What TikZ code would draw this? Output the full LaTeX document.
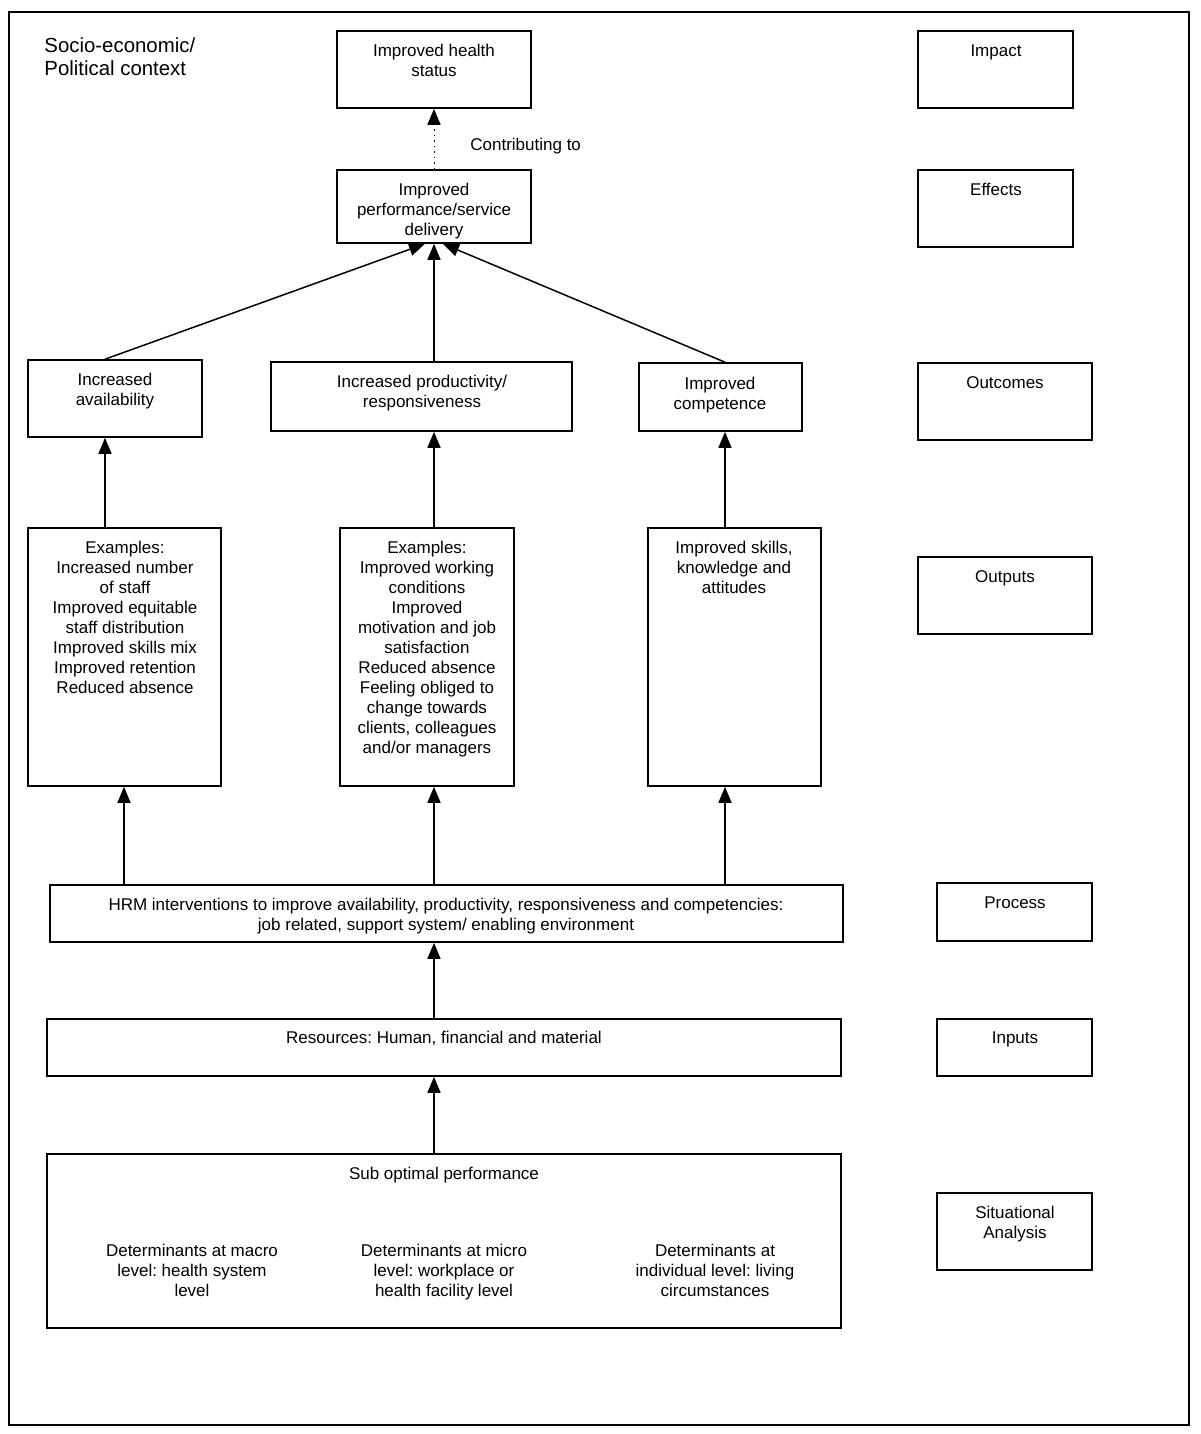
\documentclass[tikz,border=0pt]{standalone}
\usepackage{fontspec}
\setmainfont{Liberation Sans}
\usetikzlibrary{arrows.meta,fit,positioning}

\tikzset{
  box/.style={draw, line width=0.8pt, inner sep=0pt},
  txt/.style={inner sep=0pt, align=center, anchor=north, font=\fontsize{8.5}{10}\selectfont},
  arr/.style={line width=0.75pt, -{Triangle[length=8pt,width=6.5pt,line width=0.75pt]}},
}

\begin{document}
\frenchspacing
\begin{tikzpicture}[x=0.5pt,y=0.5pt,yscale=-1]
\useasboundingbox (0,0) rectangle (1200,1434);

% frame and context
\node [box, fit={(9,12) (1189,1425)}] (frame) {};
\node [inner sep=0pt, anchor=north west, align=left, font=\fontsize{10.2}{11.5}\selectfont] (context) at (44,37) {Socio-economic/\\Political context};

% columns for the vertical connectors
\coordinate (colA) at (105,0);
\coordinate (colB) at (124,0);
\coordinate (colM) at (434,0);
\coordinate (colR) at (725,0);

% main chain boxes
\node [box, fit={(337,31) (531,108)}] (health) {};
\node [box, fit={(337,170) (531,243)}] (perf) {};
\node [box, fit={(28,360) (202,437)}] (avail) {};
\node [box, fit={(271,362) (572,431)}] (prod) {};
\node [box, fit={(639,363) (802,431)}] (comp) {};
\node [box, fit={(28,528) (221,786)}] (ex1) {};
\node [box, fit={(340,528) (514,786)}] (ex2) {};
\node [box, fit={(648,528) (821,786)}] (ex3) {};
\node [box, fit={(50,885) (843,942)}] (hrm) {};
\node [box, fit={(47,1019) (841,1076)}] (res) {};
\node [box, fit={(47,1154) (841,1328)}] (sub) {};

% texts of the main chain
\node [txt] (healthtxt) at (434,44) {Improved health\\status};
\node [txt] (perftxt) at (434,183) {Improved\\performance/service\\delivery};
\node [txt] (availtxt) at (115,373) {Increased\\availability};
\node [txt] (prodtxt) at (422,375) {Increased productivity/\\responsiveness};
\node [txt] (comptxt) at (720,377) {Improved\\competence};
\node [txt] (ex1txt) at (125,541) {Examples:\\Increased number\\of staff\\Improved equitable\\staff distribution\\Improved skills mix\\Improved retention\\Reduced absence};
\node [txt] (ex2txt) at (427,541) {Examples:\\Improved working\\conditions\\Improved\\motivation and job\\satisfaction\\Reduced absence\\Feeling obliged to\\change towards\\clients, colleagues\\and/or managers};
\node [txt] (ex3txt) at (734,541) {Improved skills,\\knowledge and\\attitudes};
\node [txt] (hrmtxt) at (446,898) {HRM interventions to improve availability, productivity, responsiveness and competencies:\\job related, support system/ enabling environment};
\node [txt] (restxt) at (444,1031) {Resources: Human, financial and material};
\node [txt] (subtxt) at (444,1167) {Sub optimal performance};
\node [txt] (macro) at (192,1244) {Determinants at macro\\level: health system\\level};
\node [txt] (micro) at (444,1244) {Determinants at micro\\level: workplace or\\health facility level};
\node [txt] (indiv) at (715,1244) {Determinants at\\individual level: living\\circumstances};
\node [txt, anchor=west] (contrib) at (470,146) {Contributing to};

% level boxes on the right
\node [box, fit={(918,31) (1073,108)}] (impact) {};
\node [box, fit={(918,170) (1073,247)}] (effects) {};
\node [box, fit={(918,363) (1092,440)}] (outcomes) {};
\node [box, fit={(918,557) (1092,634)}] (outputs) {};
\node [box, fit={(937,883) (1092,941)}] (process) {};
\node [box, fit={(937,1019) (1092,1076)}] (inputs) {};
\node [box, fit={(937,1193) (1092,1270)}] (situation) {};
\node [txt] at (996,44) {Impact};
\node [txt] at (996,183) {Effects};
\node [txt] at (1005,376) {Outcomes};
\node [txt] at (1005,570) {Outputs};
\node [txt] at (1015,896) {Process};
\node [txt] at (1015,1031) {Inputs};
\node [txt] at (1015,1206) {Situational\\Analysis};

% connectors
\draw [arr, dotted, line width=0.5pt] (perf.north) -- (health.south);
\draw [arr] (avail.north -| colA) -- ([xshift=-4.5pt]perf.south);
\draw [arr] (prod.north -| colM) -- (perf.south);
\draw [arr] (comp.north -| colR) -- ([xshift=4.5pt]perf.south);
\draw [arr] (ex1.north -| colA) -- (avail.south -| colA);
\draw [arr] (ex2.north -| colM) -- (prod.south -| colM);
\draw [arr] (ex3.north -| colR) -- (comp.south -| colR);
\draw [arr] (hrm.north -| colB) -- (ex1.south -| colB);
\draw [arr] (hrm.north -| colM) -- (ex2.south -| colM);
\draw [arr] (hrm.north -| colR) -- (ex3.south -| colR);
\draw [arr] (res.north -| colM) -- (hrm.south -| colM);
\draw [arr] (sub.north -| colM) -- (res.south -| colM);

\end{tikzpicture}
\end{document}
